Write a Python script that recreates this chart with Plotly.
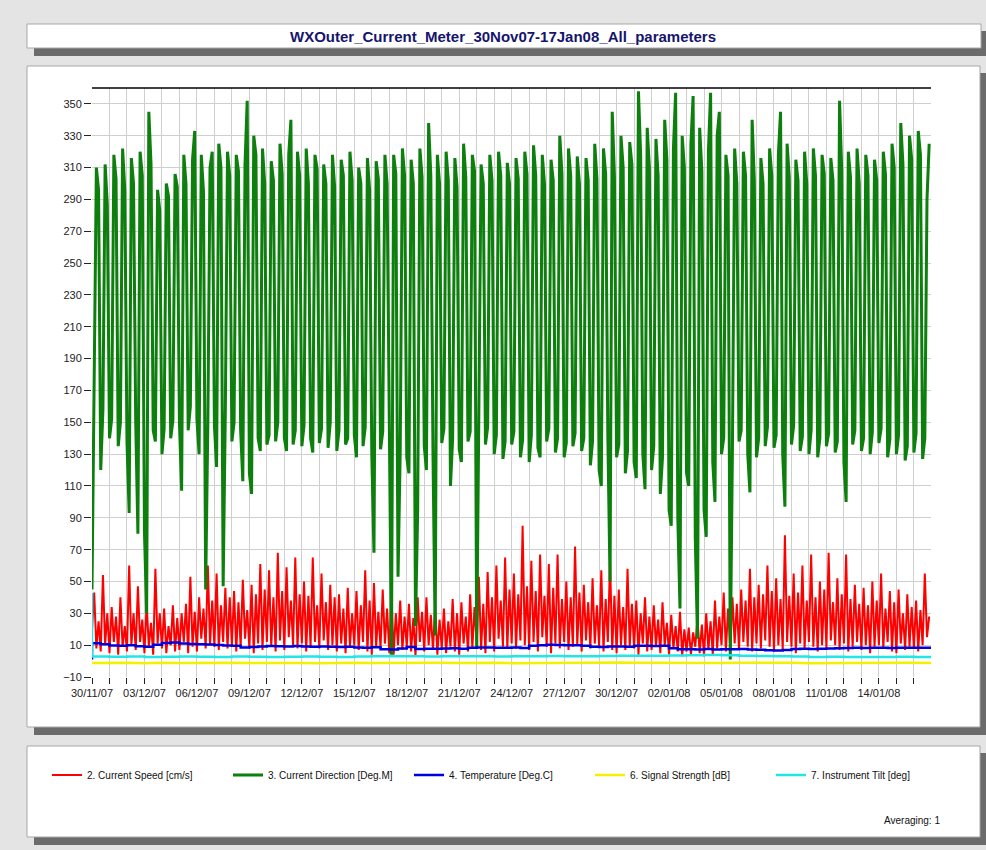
import pandas as pd
import plotly.graph_objects as go

START = "2007-11-30"
TITLE = "WXOuter_Current_Meter_30Nov07-17Jan08_All_parameters"

# 3-hourly samples, one row per day (30/11/07 .. 16/01/08)
speed = [
    20, 43, 8, 25, 6, 54, 10, 30,
    5, 34, 12, 28, 4, 40, 9, 22,
    6, 60, 10, 30, 7, 47, 12, 26,
    5, 36, 9, 24, 4, 58, 11, 30,
    8, 33, 5, 22, 10, 35, 6, 27,
    7, 30, 12, 36, 5, 53, 9, 31,
    6, 40, 14, 33, 8, 60, 10, 38,
    9, 55, 7, 35, 12, 46, 8, 40,
    10, 44, 6, 37, 9, 51, 14, 32,
    8, 48, 5, 42, 11, 61, 7, 45,
    12, 57, 9, 40, 6, 68, 13, 44,
    7, 59, 15, 38, 10, 65, 8, 42,
    11, 50, 6, 41, 9, 65, 12, 35,
    8, 55, 13, 37, 7, 48, 10, 40,
    6, 42, 11, 33, 5, 46, 9, 30,
    10, 44, 7, 35, 12, 57, 6, 38,
    4, 49, 9, 31, 8, 45, 11, 33,
    5, 42, 4, 30, 10, 38, 7, 28,
    9, 36, 6, 27, 3, 40, 12, 31,
    6, 40, 10, 29, 7, 35, 4, 26,
    8, 33, 5, 25, 9, 39, 6, 30,
    4, 37, 11, 28, 6, 42, 8, 34,
    10, 53, 7, 36, 5, 56, 12, 40,
    6, 60, 14, 38, 9, 65, 8, 45,
    11, 55, 8, 42, 13, 85, 10, 47,
    7, 63, 12, 44, 6, 67, 15, 41,
    9, 61, 5, 46, 11, 67, 8, 39,
    12, 50, 7, 40, 9, 72, 10, 43,
    6, 48, 13, 37, 8, 52, 11, 35,
    9, 57, 6, 39, 12, 63, 7, 41,
    5, 45, 10, 34, 7, 58, 9, 36,
    8, 38, 4, 30, 11, 40, 6, 28,
    7, 35, 9, 26, 5, 37, 10, 24,
    4, 29, 8, 22, 6, 31, 3, 20,
    6, 21, 4, 18, 9, 27, 5, 23,
    3, 30, 7, 25, 4, 38, 8, 28,
    10, 43, 6, 33, 8, 40, 11, 36,
    7, 45, 12, 38, 9, 58, 6, 40,
    11, 48, 8, 42, 13, 60, 9, 44,
    6, 52, 10, 39, 7, 79, 12, 41,
    9, 55, 5, 43, 11, 60, 8, 38,
    12, 67, 9, 40, 6, 50, 10, 45,
    8, 68, 13, 37, 10, 52, 7, 42,
    11, 67, 6, 39, 9, 48, 12, 36,
    7, 46, 10, 35, 5, 50, 9, 38,
    10, 55, 8, 33, 12, 44, 6, 37,
    5, 45, 11, 30, 7, 42, 9, 34,
    8, 38, 6, 32, 10, 55, 15, 28,
]

direction = [
    45, 205, 310, 296, 120, 158, 312, 287,
    140, 152, 318, 303, 135, 150, 322, 296,
    138, 93, 316, 300, 150, 80, 320, 305,
    81, 30, 345, 312, 145, 138, 296, 283,
    130, 146, 300, 292, 140, 151, 306, 298,
    150, 107, 318, 300, 145, 160, 315, 333,
    152, 130, 318, 295, 45, 150, 310, 320,
    148, 122, 325, 310, 47, 158, 320, 305,
    138, 150, 318, 308, 145, 113, 312, 352,
    118, 105, 330, 318, 140, 132, 322, 300,
    136, 142, 314, 302, 138, 150, 325, 306,
    140, 132, 318, 340, 136, 145, 320, 305,
    135, 148, 322, 300, 140, 131, 318, 309,
    137, 146, 312, 300, 134, 150, 318, 298,
    132, 145, 315, 305, 136, 140, 320, 302,
    142, 128, 310, 300, 135, 147, 316, 296,
    130, 68, 314, 303, 133, 144, 318, 300,
    140, 4, 318, 306, 53, 131, 322, 305,
    128, 118, 315, 300, 22, 95, 322, 304,
    135, 120, 338, 305, 130, 16, 318, 300,
    137, 146, 320, 302, 110, 140, 316, 298,
    133, 125, 325, 304, 138, 144, 318, 308,
    8, 140, 312, 300, 136, 147, 318, 302,
    130, 142, 320, 305, 127, 138, 313, 300,
    136, 144, 316, 303, 128, 139, 320, 306,
    125, 142, 324, 305, 134, 128, 318, 300,
    138, 146, 315, 302, 131, 140, 330, 306,
    128, 137, 322, 305, 135, 143, 317, 300,
    132, 140, 316, 302, 123, 138, 325, 303,
    120, 110, 322, 306, 140, 50, 345, 305,
    128, 136, 330, 310, 118, 132, 326, 312,
    125, 115, 358, 318, 130, 108, 335, 310,
    120, 135, 328, 305, 105, 128, 340, 315,
    95, 85, 322, 357, 90, 33, 330, 310,
    118, 110, 325, 355, 77, 14, 335, 308,
    95, 78, 320, 357, 125, 100, 330, 345,
    130, 140, 318, 305, 1, 135, 322, 300,
    138, 145, 320, 305, 130, 106, 340, 302,
    128, 140, 316, 300, 135, 147, 322, 305,
    134, 142, 318, 345, 130, 97, 325, 304,
    136, 148, 315, 302, 132, 141, 320, 300,
    130, 145, 322, 305, 128, 140, 318, 306,
    135, 143, 316, 302, 131, 138, 352, 308,
    125, 100, 320, 304, 136, 145, 322, 300,
    132, 140, 318, 305, 130, 144, 315, 302,
    137, 146, 320, 306, 128, 139, 325, 310,
    130, 142, 338, 312, 126, 135, 330, 315,
    131, 143, 333, 318, 127, 140, 290, 325,
]

# 12-hourly
temperature = [
    1.0, 11.2, 10.5, 9.8, 9.6, 9.9, 9.3, 9.0, 10.2, 11.4,
    11.6, 11.0, 10.7, 10.5, 10.4, 10.1, 9.8, 9.6, 8.6, 8.9,
    9.2, 9.4, 9.3, 9.1, 9.4, 9.2, 9.0, 9.1, 9.0, 8.8,
    9.0, 8.6, 8.4, 8.7, 7.4, 7.2, 7.9, 8.8, 7.6, 7.8,
    7.7, 7.9, 8.0, 7.8, 8.4, 8.6, 8.5, 8.4, 8.3, 8.6,
    8.2, 9.7, 10.0, 10.2, 10.1, 9.9, 10.0, 9.6, 9.0, 8.9,
    9.2, 9.1, 9.0, 9.6, 9.7, 9.5, 9.6, 8.0, 7.5, 7.4,
    7.3, 7.6, 7.2, 7.5, 7.4, 7.6, 7.3, 7.1, 6.8, 6.6,
    6.9, 7.6, 7.8, 7.6, 7.7, 7.9, 8.1, 8.2, 8.3, 8.2,
    8.4, 8.3, 8.2, 8.4, 8.3, 8.3, 8.4,
]

# daily
signal = [
    -1.2, -1.0, -1.1, -1.3, -1.0, -1.2, -1.1, -0.9, -1.0, -1.2,
    -1.1, -1.0, -1.2, -1.3, -1.1, -1.0, -1.2, -1.1, -0.9, -1.0,
    -1.1, -1.2, -1.0, -1.1, -1.3, -1.2, -1.0, -1.1, -1.2, -1.0,
    -0.9, -1.1, -1.2, -1.0, -1.1, -1.3, -1.2, -1.1, -1.0, -1.2,
    -1.1, -1.3, -1.2, -1.0, -1.1, -1.2, -1.0, -1.1, -1.2,
]
tilt = [
    43.0, 2.8, 2.7, 2.8, 2.6, 2.7, 2.8, 2.7, 2.6, 2.8,
    2.7, 2.6, 2.7, 2.8, 2.7, 2.6, 2.8, 3.0, 3.1, 3.0,
    2.9, 3.0, 3.1, 3.0, 2.9, 3.0, 3.1, 3.2, 3.0, 3.1,
    3.2, 3.3, 3.4, 3.3, 3.5, 3.6, 3.8, 3.6, 3.4, 3.2,
    3.0, 2.8, 2.6, 2.7, 2.6, 2.5, 2.6, 2.7, 2.6,
]

series = [
    ("2. Current Speed [cm/s]", speed, "3h", "#ff0000", 2, "linear"),
    ("3. Current Direction [Deg.M]", direction, "3h", "#0c7f0c", 3, "linear"),
    ("4. Temperature [Deg.C]", temperature, "12h", "#0000dd", 2.5, "vh"),
    ("6. Signal Strength [dB]", signal, "1D", "#f2f200", 2.5, "linear"),
    ("7. Instrument Tilt [deg]", tilt, "1D", "#22e6e6", 2.5, "vh"),
]

# page geometry (pixels)
W, H = 986, 850
ML, MR, MT, MB = 92, 55, 88, 173
PW, PH = W - ML - MR, H - MT - MB


def px(x):
    return (x - ML) / PW


def py(y):
    return (H - MB - y) / PH


def panel(x0, y0, x1, y1):
    shadow = dict(type="rect", xref="paper", yref="paper", layer="below",
                  x0=px(x0 + 7), x1=px(x1 + 6), y0=py(y1 + 8), y1=py(y0 + 7),
                  fillcolor="#6b6b6b", line=dict(width=0))
    face = dict(type="rect", xref="paper", yref="paper", layer="below",
                x0=px(x0), x1=px(x1), y0=py(y1), y1=py(y0),
                fillcolor="white", line=dict(color="#a8a8a8", width=1))
    return [shadow, face]


fig = go.Figure()
for name, vals, freq, color, width, shape in series:
    t = pd.date_range(START, periods=len(vals), freq=freq)
    fig.add_trace(go.Scatter(x=t, y=vals, name=name, mode="lines",
                             line=dict(color=color, width=width, shape=shape)))

font = "Liberation Sans, Arial, sans-serif"
shapes = panel(27, 24, 981, 48) + panel(27, 66, 980, 727) + panel(27, 746, 980, 837)
shapes.append(dict(type="line", xref="paper", yref="paper", x0=0, x1=1, y0=1, y1=1,
                   line=dict(color="black", width=1.5)))

fig.update_layout(
    width=W, height=H, autosize=False,
    margin=dict(l=ML, r=MR, t=MT, b=MB),
    paper_bgcolor="#e4e4e4", plot_bgcolor="white",
    font=dict(family=font, size=11, color="#222"),
    shapes=shapes,
    showlegend=True,
    legend=dict(orientation="h", x=px(47), y=py(775), xanchor="left", yanchor="middle",
                bgcolor="rgba(0,0,0,0)", font=dict(size=10, color="#111"),
                entrywidth=136, entrywidthmode="pixels", itemwidth=30),
    annotations=[
        dict(text="<b>" + TITLE + "</b>", xref="paper", yref="paper",
             x=px(503), y=py(36), xanchor="center", yanchor="middle", showarrow=False,
             font=dict(family=font, size=15, color="#15156b")),
        dict(text="Averaging: 1", xref="paper", yref="paper", x=px(942), y=py(820),
             xanchor="right", yanchor="middle", showarrow=False,
             font=dict(size=10, color="#111")),
    ],
)

fig.update_xaxes(
    type="date", range=["2007-11-30", "2008-01-16 23:30"],
    tick0=START, dtick=3 * 86400000, tickformat="%d/%m/%y",
    ticks="outside", ticklen=6, tickcolor="#222",
    showgrid=True, gridcolor="#cfcfcf", gridwidth=1,
    minor=dict(dtick=86400000, tick0=START, ticks="outside", ticklen=6,
               tickcolor="#222", showgrid=True, gridcolor="#cfcfcf"),
    showline=False, zeroline=False,
)
fig.update_yaxes(
    range=[-10, 360], tick0=-10, dtick=20,
    ticks="outside", ticklen=7, tickcolor="#222",
    showgrid=True, gridcolor="#cfcfcf", gridwidth=1,
    zeroline=False, showline=False,
)

fig.write_html(
    "out.html",
    config={"displayModeBar": False},
    post_script="document.body.style.margin='0';document.body.style.background='#e4e4e4';",
)
